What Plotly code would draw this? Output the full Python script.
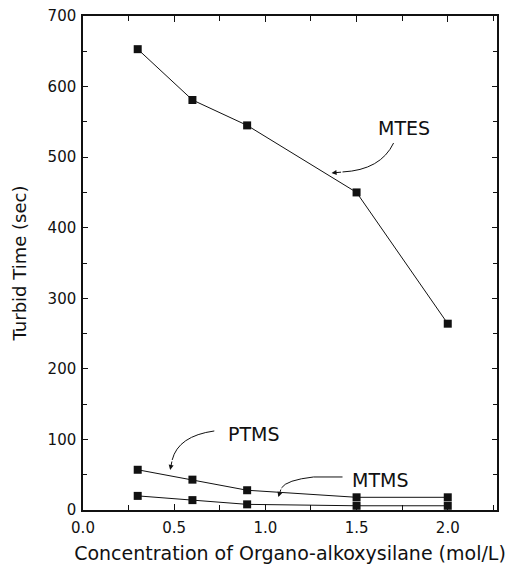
import plotly.graph_objects as go

# ---- data ----
concentration = [0.3, 0.6, 0.9, 1.5, 2.0]
mtes = [653, 581, 545, 450, 264]
ptms = [57, 43, 28, 18, 18]
mtms = [20, 14, 8, 6, 6]

x_ticks = [0.0, 0.5, 1.0, 1.5, 2.0]
x_ticklabels = ["0.0", "0.5", "1.0", "1.5", "2.0"]
y_ticks = [0, 100, 200, 300, 400, 500, 600, 700]

FONT = "DejaVu Sans"
INK = "#111111"

fig = go.Figure()
for name, vals in [("MTES", mtes), ("PTMS", ptms), ("MTMS", mtms)]:
    fig.add_trace(go.Scatter(
        x=concentration, y=vals, name=name, mode="lines+markers",
        line=dict(color=INK, width=1),
        marker=dict(symbol="square", size=8, color=INK),
        showlegend=False,
    ))

# curved leader lines (data coordinates)
paths = [
    "M 1.703,520.0 Q 1.632,481.8 1.423,479.0",
    "M 0.720,112.0 Q 0.522,104.9 0.489,70.9",
    "M 1.423,46.8 L 1.264,46.8 Q 1.115,42.5 1.088,31.2",
]
for p in paths:
    fig.add_shape(type="path", path=p, xref="x", yref="y",
                  line=dict(color=INK, width=1))

# arrow heads
for (x, y, ax, ay) in [(1.363, 477.5, 11, -1), (0.478, 56.7, 2, -10), (1.071, 18.4, 3, -9)]:
    fig.add_annotation(x=x, y=y, xref="x", yref="y", text="", showarrow=True,
                       ax=ax, ay=ay, arrowhead=2, arrowsize=1, arrowwidth=1,
                       arrowcolor=INK)

# labels
for (txt, x, y) in [("MTES", 1.758, 541.3), ("PTMS", 0.940, 107.7), ("MTMS", 1.626, 42.5)]:
    fig.add_annotation(x=x, y=y, xref="x", yref="y", text=txt, showarrow=False,
                       font=dict(family=FONT, size=19, color=INK))

fig.update_layout(
    width=519, height=564,
    margin=dict(l=83, r=22, t=16, b=54),
    paper_bgcolor="white", plot_bgcolor="white",
    font=dict(family=FONT, color=INK),
)
fig.update_xaxes(
    range=[0, 2.27], tickvals=x_ticks, ticktext=x_ticklabels,
    ticks="inside", ticklen=6, tickwidth=1, tickcolor=INK,
    minor=dict(dtick=0.25, tick0=0, ticks="inside", ticklen=5, tickcolor=INK),
    showline=True, linecolor=INK, linewidth=1.5, mirror="ticks",
    showgrid=False, zeroline=False, automargin=False,
    ticklabelstandoff=3,
    tickfont=dict(family=FONT, size=15, color=INK),
    title=dict(text="Concentration of Organo-alkoxysilane (mol/L)",
               font=dict(family=FONT, size=19, color=INK), standoff=18),
)
fig.update_yaxes(
    range=[0, 700], tickvals=y_ticks,
    ticks="inside", ticklen=5, tickwidth=1, tickcolor=INK,
    minor=dict(dtick=50, tick0=0, ticks="inside", ticklen=4, tickcolor=INK),
    showline=True, linecolor=INK, linewidth=1.5, mirror="ticks",
    showgrid=False, zeroline=False, automargin=False,
    ticklabelstandoff=2,
    tickfont=dict(family=FONT, size=15, color=INK),
    title=dict(text="Turbid Time (sec)",
               font=dict(family=FONT, size=18, color=INK), standoff=16),
)

fig.write_html("out.html")
